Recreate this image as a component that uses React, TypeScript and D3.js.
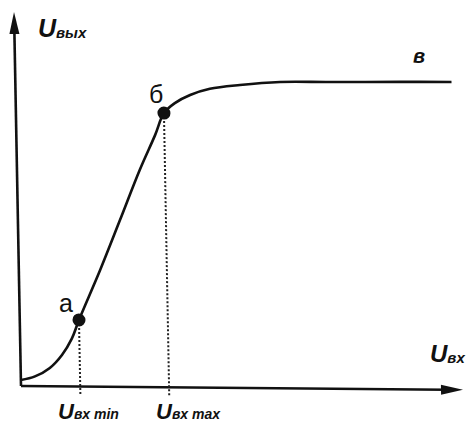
import React from 'react';
import * as d3 from 'd3';

// transfer characteristic (arbitrary units 0..10)
const curveX = [0, 0.32, 0.66, 0.94, 1.17, 1.34, 1.84, 2.31, 2.78, 3.14, 3.35, 3.6, 3.95, 4.4, 5.08, 5.99, 7.11, 8.7, 9.87];
const curveY = [0.16, 0.26, 0.49, 0.84, 1.28, 1.78, 3.12, 4.46, 5.81, 6.74, 7.33, 7.6, 7.82, 7.99, 8.1, 8.19, 8.2, 8.22, 8.23];

const pointNames = ['а', 'б'];
const pointX = [1.34, 3.35];
const pointY = [1.78, 7.33];

const width = 467;
const height = 426;
const font = '"Liberation Sans", Arial, sans-serif';

const App = () => {
    const x = d3.scaleLinear().domain([0, 10]).range([21, 463]);
    const y = d3.scaleLinear().domain([0, 10]).range([386, 12]);

    const line = d3.line<number>()
        .x((d, i) => x(curveX[i]))
        .y((d, i) => y(curveY[i]))
        .curve(d3.curveCatmullRom.alpha(0.5));

    const x0 = x(0);
    const y0 = y(0);
    const xEnd = x(10);
    const yEnd = y(10);

    // the scan is slightly sheared
    const skew = `translate(${x0},${y0}) skewY(0.5) skewX(1.07) translate(${-x0},${-y0})`;

    return (
        <svg width={width} height={height} style={{ position: 'absolute', left: 0, top: 0, background: '#fff' }}>
            <g transform={skew}>
                {/* axes */}
                <line x1={x0} y1={y0} x2={xEnd - 16} y2={y0} stroke="#111" strokeWidth={2.6} />
                <path d={`M${xEnd},${y0} L${xEnd - 22},${y0 - 5} L${xEnd - 22},${y0 + 5} Z`} fill="#111" />
                <line x1={x0} y1={y0} x2={x0} y2={yEnd + 16} stroke="#111" strokeWidth={2.6} />
                <path d={`M${x0},${yEnd} L${x0 - 5},${yEnd + 22} L${x0 + 5},${yEnd + 22} Z`} fill="#111" />

                {/* dotted drop lines */}
                {pointX.map((px, i) => (
                    <line key={'d' + i} x1={x(px)} y1={y(pointY[i])} x2={x(px)} y2={y(-0.22)}
                        stroke="#222" strokeWidth={2} strokeDasharray="2,2" />
                ))}

                <path d={line(curveX) || ''} fill="none" stroke="#111" strokeWidth={2.6} />

                {pointX.map((px, i) => (
                    <circle key={'p' + i} cx={x(px)} cy={y(pointY[i])} r={6.5} fill="#111" />
                ))}
            </g>

            <g fontFamily={font} fill="#111">
                <text x={38} y={37} fontSize={25} fontWeight="bold" fontStyle="italic">
                    U<tspan fontSize={15} dy={1}>вых</tspan>
                </text>
                <text x={59} y={312} fontSize={25}>{pointNames[0]}</text>
                <text x={149} y={103} fontSize={25}>{pointNames[1]}</text>
                <text x={413} y={63} fontSize={20} fontWeight="bold" fontStyle="italic">в</text>
                <text x={430} y={362} fontSize={24} fontWeight="bold" fontStyle="italic">
                    U<tspan fontSize={15} dy={1}>вх</tspan>
                </text>
                <text x={58} y={419} fontSize={22} fontWeight="bold" fontStyle="italic">
                    U<tspan fontSize={14}>вх min</tspan>
                </text>
                <text x={156} y={419} fontSize={22} fontWeight="bold" fontStyle="italic">
                    U<tspan fontSize={14}>вх max</tspan>
                </text>
            </g>
        </svg>
    );
};

export default App;
